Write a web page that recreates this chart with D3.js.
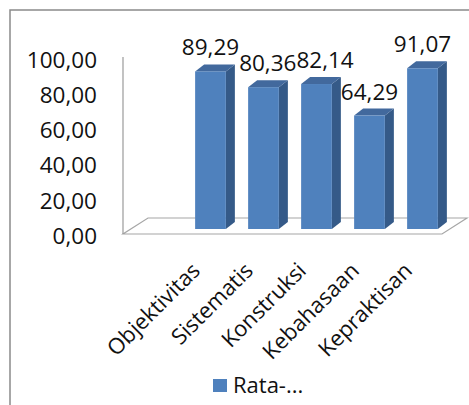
<!DOCTYPE html>
<html>
<head>
<meta charset="utf-8">
<script src="https://cdn.jsdelivr.net/npm/d3@7"></script>
<style>
  body { margin: 0; background: #fff; }
  text { font-family: "Open Sans", sans-serif; fill: #111; }
</style>
</head>
<body>
<svg width="469" height="405"></svg>
<script>
var categories = ["Objektivitas", "Sistematis", "Konstruksi", "Kebahasaan", "Kepraktisan"];
var values = [89.29, 80.36, 82.14, 64.29, 91.07];
var yTicks = [0, 20, 40, 60, 80, 100];
var seriesName = "Rata-...";

var svg = d3.select("svg");
var loc = d3.formatLocale({ decimal: ",", thousands: ".", grouping: [3], currency: ["", ""] });
var fmt = loc.format(".2f");

// chart frame (right/bottom edges run off the picture)
svg.append("rect").attr("x", 10).attr("y", 10).attr("width", 480).attr("height", 420)
  .attr("fill", "none").attr("stroke", "#8a8a8a").attr("stroke-width", 1.5);

var x = d3.scaleBand().domain(categories).range([184, 449]).paddingInner(0.42).paddingOuter(0.21);
var y = d3.scaleLinear().domain([0, 100]).range([229, 52.5]);
var yLab = d3.scaleLinear().domain([0, 100]).range([236, 60]);

var depth = { dx: 9, dy: -7 };
var floorD = { dx: 25, dy: -16 };

// floor
var fx0 = 123, fx1 = 442, fy = 234;
svg.append("path")
  .attr("d", "M" + fx0 + "," + fy + "L" + fx1 + "," + fy + "L" + (fx1 + floorD.dx) + "," + (fy + floorD.dy) +
    "L" + (fx0 + floorD.dx) + "," + (fy + floorD.dy) + "Z")
  .attr("fill", "#fff").attr("stroke", "#a6a6a6").attr("stroke-width", 1.2);

// y axis
svg.append("line").attr("x1", fx0).attr("x2", fx0).attr("y1", 57).attr("y2", fy)
  .attr("stroke", "#9a9a9a").attr("stroke-width", 1.2);
var ax = svg.append("g").attr("transform", "translate(" + fx0 + ",0)")
  .call(d3.axisLeft(yLab).tickValues(yTicks).tickSize(0).tickPadding(26).tickFormat(fmt));
ax.select(".domain").remove();
ax.selectAll("text").style("font-size", "22.5px").style("font-family", "Open Sans, sans-serif").attr("fill", "#111");

// 3d bars
var bars = svg.selectAll("g.bar").data(values).enter().append("g").attr("class", "bar");
var bw = x.bandwidth();
bars.append("path").attr("fill", "#355a88").attr("d", function(d, i) {
  var x1 = x(categories[i]) + bw, yt = y(d), yb = y(0);
  return "M" + x1 + "," + yt + "L" + (x1 + depth.dx) + "," + (yt + depth.dy) + "L" + (x1 + depth.dx) + "," + (yb + depth.dy) + "L" + x1 + "," + yb + "Z";
});
bars.append("path").attr("fill", "#42699d").attr("d", function(d, i) {
  var x0 = x(categories[i]), yt = y(d);
  return "M" + x0 + "," + yt + "L" + (x0 + depth.dx) + "," + (yt + depth.dy) + "L" + (x0 + bw + depth.dx) + "," + (yt + depth.dy) + "L" + (x0 + bw) + "," + yt + "Z";
});
bars.append("rect").attr("fill", "#4f81bd")
  .attr("x", function(d, i) { return x(categories[i]); })
  .attr("y", function(d) { return y(d); })
  .attr("width", bw)
  .attr("height", function(d) { return y(0) - y(d); });

// value labels, nudged right when they would run into the previous one
var vals = svg.selectAll("text.val").data(values).enter().append("text").attr("class", "val")
  .attr("x", function(d, i) { return x(categories[i]) + bw / 2; })
  .attr("y", function(d) { return y(d) - 16; })
  .attr("text-anchor", "middle").style("font-size", "22.5px")
  .text(function(d) { return fmt(d); });
var prevRight = -1e9, prevTop = 0, prevBot = 0;
vals.each(function() {
  var b = this.getBBox();
  var el = d3.select(this);
  if (b.x < prevRight && b.y < prevBot && b.y + b.height > prevTop) {
    var shift = prevRight - b.x;
    el.attr("x", +el.attr("x") + shift);
    b.x += shift;
  }
  prevRight = b.x + b.width; prevTop = b.y; prevBot = b.y + b.height;
});

// category labels
svg.selectAll("text.cat").data(categories).enter().append("text").attr("class", "cat")
  .attr("transform", function(d) { return "translate(" + (x(d) + bw / 2 - 9) + ",272) rotate(-45)"; })
  .attr("text-anchor", "end").style("font-size", "22px")
  .text(function(d) { return d; });

// legend
svg.append("rect").attr("x", 213).attr("y", 379).attr("width", 14).attr("height", 13).attr("fill", "#4f81bd");
svg.append("text").attr("x", 233).attr("y", 393).style("font-size", "22px").text(seriesName);
</script>
</body>
</html>
